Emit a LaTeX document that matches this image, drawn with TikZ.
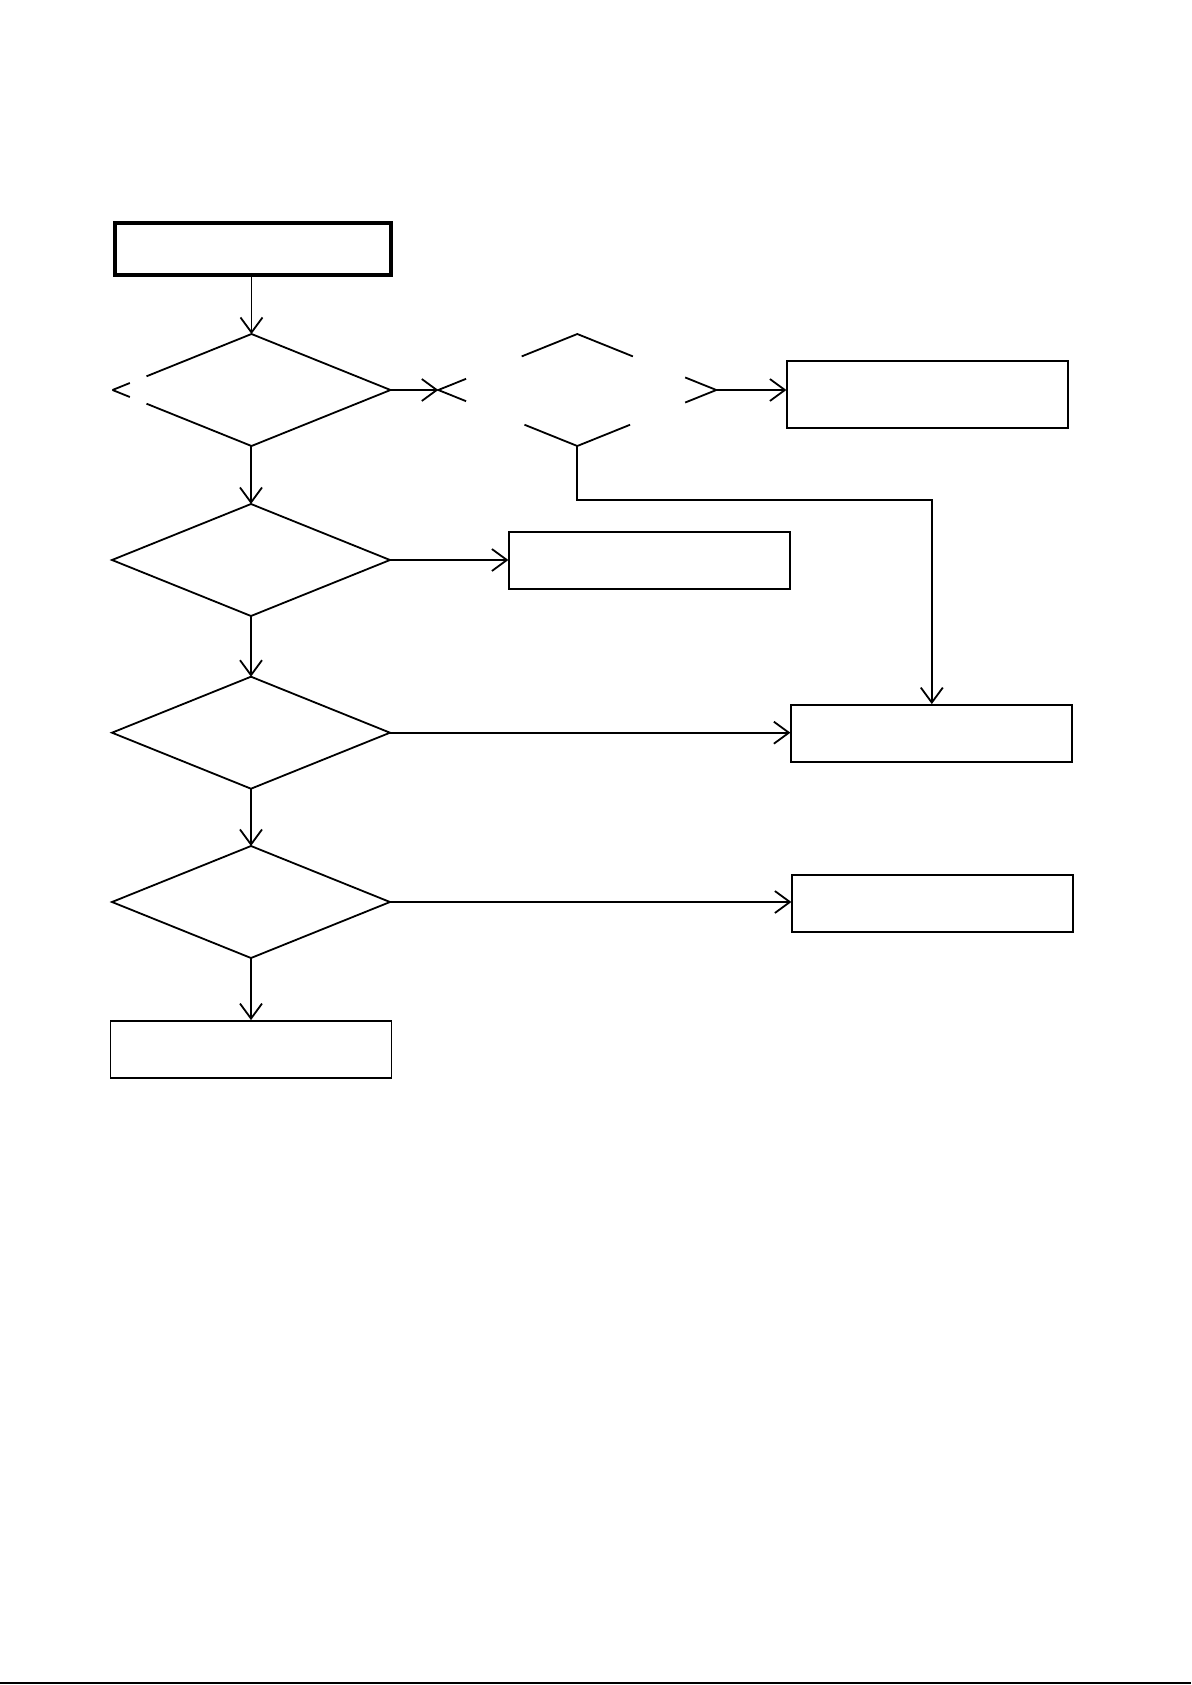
\documentclass[tikz,border=0pt]{standalone}
\usepackage{tikz}
\usetikzlibrary{calc,arrows.meta,shapes.geometric}

\begin{document}
\begin{tikzpicture}[x=0.5pt,y=-0.5pt,line width=0.9pt,
		decision/.style={diamond,minimum width=139pt,minimum height=56pt,inner sep=0pt,outer sep=0pt},
		actbox/.style={rectangle,draw,minimum width=140.5pt,minimum height=28.5pt,inner sep=0pt},
		arr/.style={-{Straight Barb[length=7.5pt,width=11pt]}}]
				\useasboundingbox (0,0) rectangle (1191,1685);
				% left column
				\node [actbox,line width=2pt,minimum width=138.3pt,minimum height=26.3pt] (start) at (253,249) {};
				\node [decision] (chk1) at (251.5,390) {};
				\node [decision,draw] (chk2) at (251,560) {};
				\node [decision,draw] (chk3) at (251,732.7) {};
				\node [decision,draw] (chk4) at (251,902) {};
				\node [actbox] (last) at (251,1049.5) {};
				% right side
				\node [decision] (chkr) at (577.3,390) {};
				\node [actbox,minimum height=33.8pt] (res1) at (927.8,394.5) {};
				\node [actbox] (res2) at (649.8,560.3) {};
				\node [actbox] (res3) at (931.8,733.5) {};
				\node [actbox] (res4) at (932.8,903.7) {};
				% broken outline of the first decision
				\draw (chk1.west) -- ($(chk1.west)!0.125!(chk1.north)$);
				\draw ($(chk1.west)!0.245!(chk1.north)$) -- (chk1.north) -- (chk1.east) -- (chk1.south) -- ($(chk1.west)!0.245!(chk1.south)$);
				\draw ($(chk1.west)!0.125!(chk1.south)$) -- (chk1.west);
				% broken outline of the second decision
				\draw ($(chkr.west)!0.2!(chkr.north)$) -- (chkr.west) -- ($(chkr.west)!0.2!(chkr.south)$);
				\draw ($(chkr.north)!0.4!(chkr.west)$) -- (chkr.north) -- ($(chkr.north)!0.4!(chkr.east)$);
				\draw ($(chkr.east)!0.224!(chkr.north)$) -- (chkr.east) -- ($(chkr.east)!0.224!(chkr.south)$);
				\draw ($(chkr.south)!0.38!(chkr.west)$) -- (chkr.south) -- ($(chkr.south)!0.38!(chkr.east)$);
				% connectors
				\draw [arr] (start.south -| chk1.north) -- (chk1.north);
				\draw [arr] (chk1.east) -- (chkr.west);
				\draw [arr] (chkr.east) -- (chkr.east -| res1.west);
				\draw [arr] (chkr.south) -- ++(0,53.6) -| (res3.north);
				\draw [arr] (chk1.south -| chk2.north) -- (chk2.north);
				\draw [arr] (chk2.east) -- (chk2.east -| res2.west);
				\draw [arr] (chk2.south) -- (chk3.north);
				\draw [arr] (chk3.east) -- (chk3.east -| res3.west);
				\draw [arr] (chk3.south) -- (chk4.north);
				\draw [arr] (chk4.east) -- (chk4.east -| res4.west);
				\draw [arr] (chk4.south) -- (last.north);
				% page rule
				\draw [line width=1pt] (0,1683) -- (1191,1683);
			\end{tikzpicture}
\end{document}
